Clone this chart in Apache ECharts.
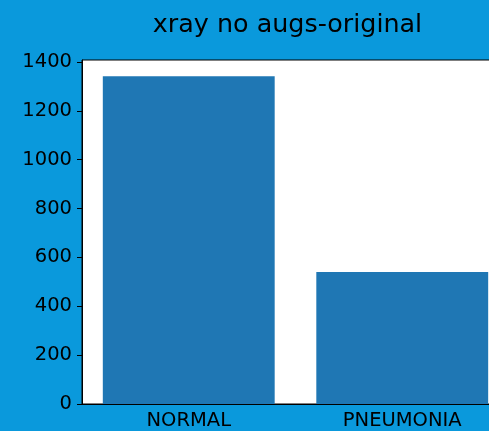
<!DOCTYPE html>
<html>
<head>
<meta charset="utf-8">
<script src="https://cdn.jsdelivr.net/npm/echarts@6/dist/echarts.min.js"></script>
<style>
  html, body { margin: 0; padding: 0; overflow: hidden; background: #0a99dc; }
  #chart { width: 575px; height: 431px; }
</style>
</head>
<body>
<div id="chart"></div>
<script>
var categories = ['NORMAL', 'PNEUMONIA'];
var counts = [1341, 540];
var yTicks = [0, 200, 400, 600, 800, 1000, 1200, 1400];
var yMax = 1408;

var myChart = echarts.init(document.getElementById('chart'));
var font = 'DejaVu Sans';
var option = {
    backgroundColor: '#0a99dc',
    animation: false,
    title: {
        text: 'xray no augs-original',
        left: 'center',
        top: 8,
        textStyle: { color: '#000', fontFamily: font, fontWeight: 'normal', fontSize: 25.4 }
    },
    grid: {
        left: 82, right: 66, top: 60, bottom: 25.5,
        show: true, backgroundColor: '#fff', borderColor: '#000', borderWidth: 1
    },
    xAxis: {
        type: 'category',
        data: categories,
        axisLine: { lineStyle: { color: '#000', width: 1 } },
        axisTick: { alignWithLabel: true, length: 5, lineStyle: { color: '#000' } },
        axisLabel: { color: '#000', fontFamily: font, fontSize: 19.5, margin: 7 }
    },
    yAxis: {
        type: 'value',
        min: 0,
        max: yMax,
        splitLine: { show: false },
        axisLine: { show: true, lineStyle: { color: '#000', width: 1 } },
        axisTick: { show: true, length: 5, customValues: yTicks, lineStyle: { color: '#000' } },
        axisLabel: {
            color: '#000', fontFamily: font, fontSize: 19.5, margin: 10, customValues: yTicks,
            formatter: function (v) { return String(v); }
        }
    },
    series: [{
        type: 'bar',
        data: counts,
        barWidth: '80.5%',
        itemStyle: { color: '#1f77b4' }
    }]
};
myChart.setOption(option);
</script>
</body>
</html>
